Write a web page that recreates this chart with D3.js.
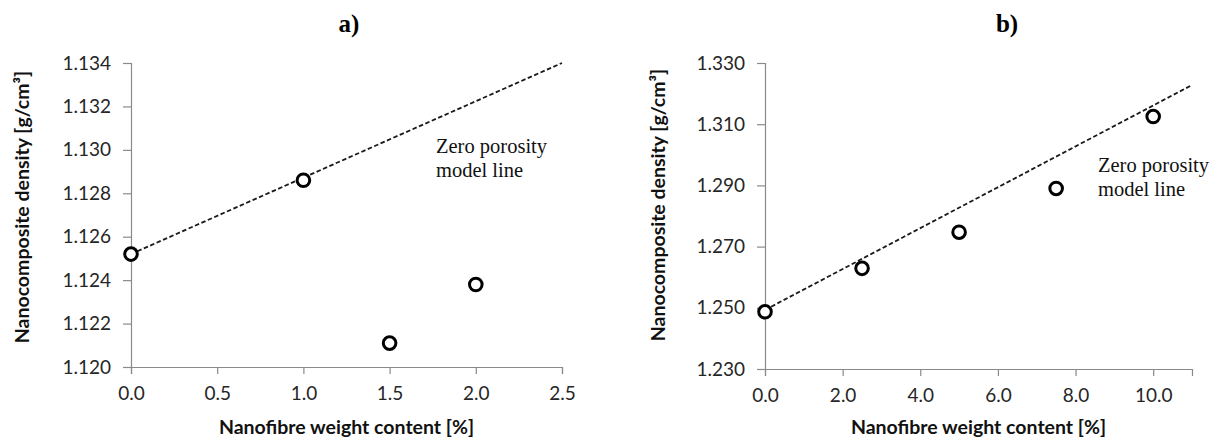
<!DOCTYPE html>
<html>
<head>
<meta charset="utf-8">
<script src="https://cdn.jsdelivr.net/npm/d3@7"></script>
<style>
  html, body { margin: 0; padding: 0; background: #fff; }
  svg { display: block; }
</style>
</head>
<body>
<svg id="chart" width="1220" height="443"></svg>
<script>
// panel a) data
const xA = [0.0, 1.0, 1.5, 2.0];
const yA = [1.1252, 1.1286, 1.1211, 1.1238];
const modelA = [[0.0, 1.1252], [2.5, 1.1340]];
const xTicksA = [0.0, 0.5, 1.0, 1.5, 2.0, 2.5];
const yTicksA = [1.120, 1.122, 1.124, 1.126, 1.128, 1.130, 1.132, 1.134];

// panel b) data
const xB = [0.0, 2.5, 5.0, 7.5, 10.0];
const yB = [1.2487, 1.2629, 1.2747, 1.2890, 1.3125];
const modelB = [[0.0, 1.2493], [11.0, 1.3228]];
const xTicksB = [0.0, 2.0, 4.0, 6.0, 8.0, 10.0];
const yTicksB = [1.230, 1.250, 1.270, 1.290, 1.310, 1.330];

const yLabel = 'Nanocomposite density [g/cm³]';
const xLabel = 'Nanofibre weight content [%]';
const modelText = ['Zero porosity', 'model line'];

const svg = d3.select('#chart');
const sansFont = 'Lato, "Open Sans", sans-serif';
const serifFont = '"Liberation Serif", "DejaVu Serif", serif';

function drawPanel(cfg) {
    const x = d3.scaleLinear().domain(cfg.xDomain).range([cfg.left, cfg.right]);
    const y = d3.scaleLinear().domain(cfg.yDomain).range([cfg.bottom, cfg.top]);
    const g = svg.append('g');

    // axes
    const xAxis = d3.axisBottom(x).tickValues(cfg.xTicks).tickFormat(d3.format('.1f')).tickSizeOuter(0).tickSize(7).tickPadding(13);
    const yAxis = d3.axisLeft(y).tickValues(cfg.yTicks).tickFormat(d3.format('.3f')).tickSizeOuter(0).tickSize(8).tickPadding(12);

    const gx = g.append('g').attr('transform', `translate(0,${cfg.bottom})`).call(xAxis);
    const gy = g.append('g').attr('transform', `translate(${cfg.left},0)`).call(yAxis);
    [gx, gy].forEach(a => {
        a.select('.domain').attr('stroke', '#8a8a8a').attr('stroke-width', 1.2);
        a.selectAll('.tick line').attr('stroke', '#8a8a8a').attr('stroke-width', 1.2);
        a.selectAll('.tick text')
            .style('font-family', sansFont)
            .style('font-size', '19px')
            .attr('fill', '#262626');
    });

    // zero porosity model line
    const line = d3.line().x(d => x(d[0])).y(d => y(d[1]));
    g.append('path')
        .datum(cfg.model)
        .attr('d', line)
        .attr('fill', 'none')
        .attr('stroke', '#1a1a1a')
        .attr('stroke-width', 1.8)
        .attr('stroke-dasharray', '4.5,2.5');

    // measured points
    g.append('g')
        .selectAll('circle')
        .data(cfg.xs.map((v, i) => [v, cfg.ys[i]]))
        .join('circle')
        .attr('cx', d => x(d[0]))
        .attr('cy', d => y(d[1]))
        .attr('r', 6.3)
        .attr('fill', '#fff')
        .attr('stroke', '#000')
        .attr('stroke-width', 3);

    // annotation
    const note = g.append('text')
        .attr('x', cfg.noteX)
        .attr('y', cfg.noteY)
        .style('font-family', serifFont)
        .style('font-size', '20.5px')
        .attr('fill', '#111');
    modelText.forEach((t, i) => {
        note.append('tspan').attr('x', cfg.noteX).attr('dy', i ? 24 : 0).text(t);
    });

    // panel title
    g.append('text')
        .attr('x', cfg.titleX)
        .attr('y', 32)
        .attr('text-anchor', 'middle')
        .style('font-family', serifFont)
        .style('font-size', '25px')
        .style('font-weight', 700)
        .text(cfg.title);

    // axis titles
    g.append('text')
        .attr('x', (cfg.left + cfg.right) / 2)
        .attr('y', 434)
        .attr('text-anchor', 'middle')
        .style('font-family', sansFont)
        .style('font-size', '19.5px')
        .style('font-weight', 700)
        .attr('fill', '#111')
        .text(xLabel);

    g.append('text')
        .attr('transform', `translate(${cfg.yLabelX},${cfg.yLabelY}) rotate(-90)`)
        .attr('text-anchor', 'middle')
        .style('font-family', sansFont)
        .style('font-size', '19.5px')
        .style('font-weight', 700)
        .attr('fill', '#111')
        .text(yLabel);
}

drawPanel({
    title: 'a)', titleX: 349,
    xs: xA, ys: yA, model: modelA,
    xDomain: [0, 2.5], yDomain: [1.120, 1.134],
    xTicks: xTicksA, yTicks: yTicksA,
    left: 131, right: 562, top: 63, bottom: 367,
    noteX: 436, noteY: 153, yLabelX: 29, yLabelY: 207
});

drawPanel({
    title: 'b)', titleX: 1007,
    xs: xB, ys: yB, model: modelB,
    xDomain: [0, 11], yDomain: [1.230, 1.330],
    xTicks: xTicksB, yTicks: yTicksB,
    left: 765, right: 1192, top: 63, bottom: 369,
    noteX: 1098, noteY: 172, yLabelX: 665, yLabelY: 205
});
</script>
</body>
</html>
